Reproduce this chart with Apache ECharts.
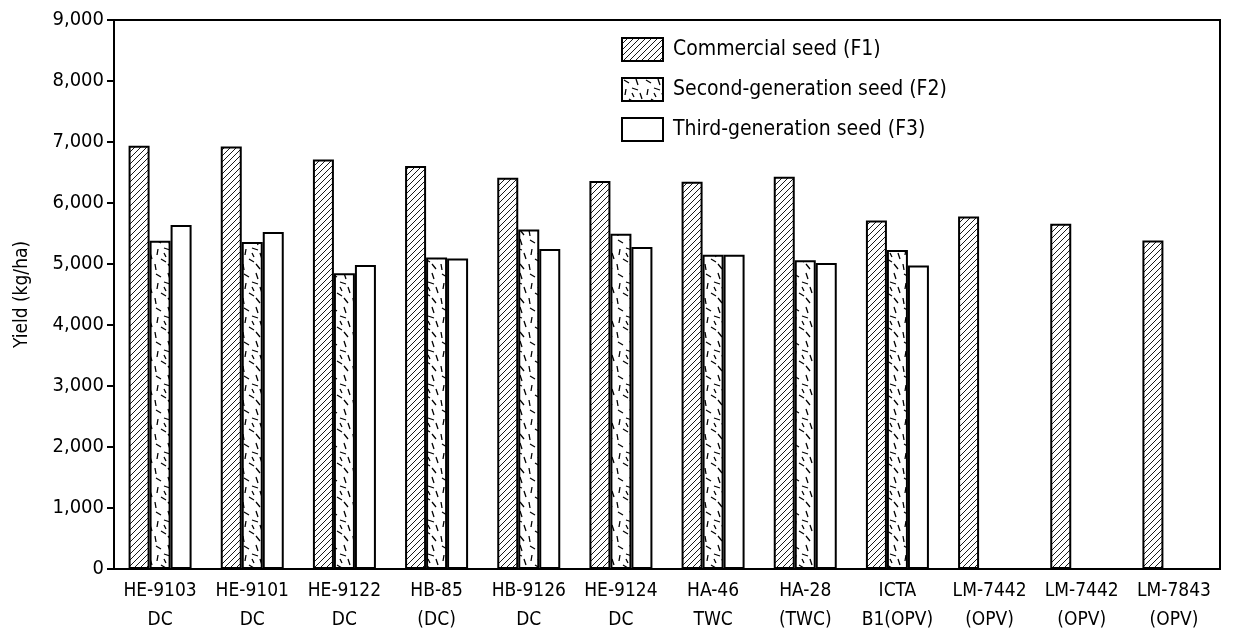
<!DOCTYPE html>
<html>
<head>
<meta charset="utf-8">
<script src="https://cdn.jsdelivr.net/npm/echarts@6/dist/echarts.min.js"></script>
<style>
html,body{margin:0;padding:0;background:#fff;}
#chart{width:1240px;height:639px;}
</style>
</head>
<body>
<div id="chart"></div>
<script>
const categories = ['HE-9103\nDC','HE-9101\nDC','HE-9122\nDC','HB-85\n(DC)','HB-9126\nDC','HE-9124\nDC','HA-46\nTWC','HA-28\n(TWC)','ICTA\nB1(OPV)','LM-7442\n(OPV)','LM-7442\n(OPV)','LM-7843\n(OPV)'];
const seriesNames = ['Commercial seed (F1)','Second-generation seed (F2)','Third-generation seed (F3)'];
const f1 = [6940, 6925, 6715, 6605, 6415, 6360, 6350, 6430, 5715, 5780, 5660, 5385];
const f2 = [5380, 5360, 4850, 5105, 5565, 5495, 5150, 5060, 5230, null, null, null];
const f3 = [5640, 5525, 4985, 5090, 5245, 5280, 5150, 5015, 4975, null, null, null];
const yTicks = {min: 0, max: 9000, interval: 1000};
const yTitle = 'Yield (kg/ha)';

const FONT = "'Liberation Sans Narrow','DejaVu Sans Condensed',sans-serif";

function hatchPattern(){
  const c = document.createElement('canvas'); c.width = 6; c.height = 6;
  const g = c.getContext('2d');
  g.fillStyle = '#fff'; g.fillRect(0,0,6,6);
  g.strokeStyle = '#000'; g.lineWidth = 0.9;
  g.beginPath();
  g.moveTo(0,6); g.lineTo(6,0);
  g.moveTo(-1,1); g.lineTo(1,-1);
  g.moveTo(5,7); g.lineTo(7,5);
  g.stroke();
  return c;
}
function dashPattern(){
  const c = document.createElement('canvas'); c.width = 22; c.height = 34;
  const g = c.getContext('2d');
  g.fillStyle = '#fff'; g.fillRect(0,0,22,34);
  g.strokeStyle = '#000'; g.lineWidth = 1.3;
  const segs = [[2,2,7,5],[14,1,16,7],[4,11,3,17],[10,10,16,12],[18,15,20,21],[7,21,12,24],[1,26,2,32],[14,26,18,31],[10,15,12,19]];
  g.beginPath();
  segs.forEach(s=>{g.moveTo(s[0],s[1]); g.lineTo(s[2],s[3]);});
  g.stroke();
  return c;
}

const chart = echarts.init(document.getElementById('chart'));
const baseStyle = {borderColor:'#000', borderWidth:2};
chart.setOption({
  animation:false,
  backgroundColor:'#fff',
  textStyle:{fontFamily:FONT},
  grid:{left:114, right:20, top:20, bottom:70, show:true, borderColor:'#000', borderWidth:2, backgroundColor:'transparent'},
  legend:{
    orient:'vertical', left:616, top:32, itemWidth:41, itemHeight:23, itemGap:15, icon:'rect',
    textStyle:{fontFamily:FONT, fontSize:21, color:'#000', padding:[0,0,0,5]},
    data:seriesNames
  },
  xAxis:{
    type:'category', data:categories,
    axisLine:{lineStyle:{color:'#000', width:2}},
    axisTick:{show:false},
    axisLabel:{color:'#000', fontSize:19, fontFamily:FONT, lineHeight:29, margin:8, interval:0}
  },
  yAxis:{
    type:'value', min:yTicks.min, max:yTicks.max, interval:yTicks.interval,
    name:yTitle, nameLocation:'middle', nameGap:82, nameRotate:90,
    nameTextStyle:{color:'#000', fontSize:19, fontFamily:FONT},
    axisLine:{show:true, lineStyle:{color:'#000', width:2}},
    axisTick:{show:true, length:7, lineStyle:{color:'#000', width:2}},
    splitLine:{show:false},
    axisLabel:{color:'#000', fontSize:20, fontFamily:FONT, margin:10,
      formatter:v=>v.toLocaleString('en-US')}
  },
  series:[
    {name:seriesNames[0], type:'bar', data:f1, barWidth:21, barGap:'0%',
      itemStyle:Object.assign({color:{image:hatchPattern(), repeat:'repeat'}}, baseStyle)},
    {name:seriesNames[1], type:'bar', data:f2, barWidth:21, barGap:'0%',
      itemStyle:Object.assign({color:{image:dashPattern(), repeat:'repeat'}}, baseStyle)},
    {name:seriesNames[2], type:'bar', data:f3, barWidth:21, barGap:'0%',
      itemStyle:Object.assign({color:'#fff'}, baseStyle)}
  ]
});
</script>
</body>
</html>
